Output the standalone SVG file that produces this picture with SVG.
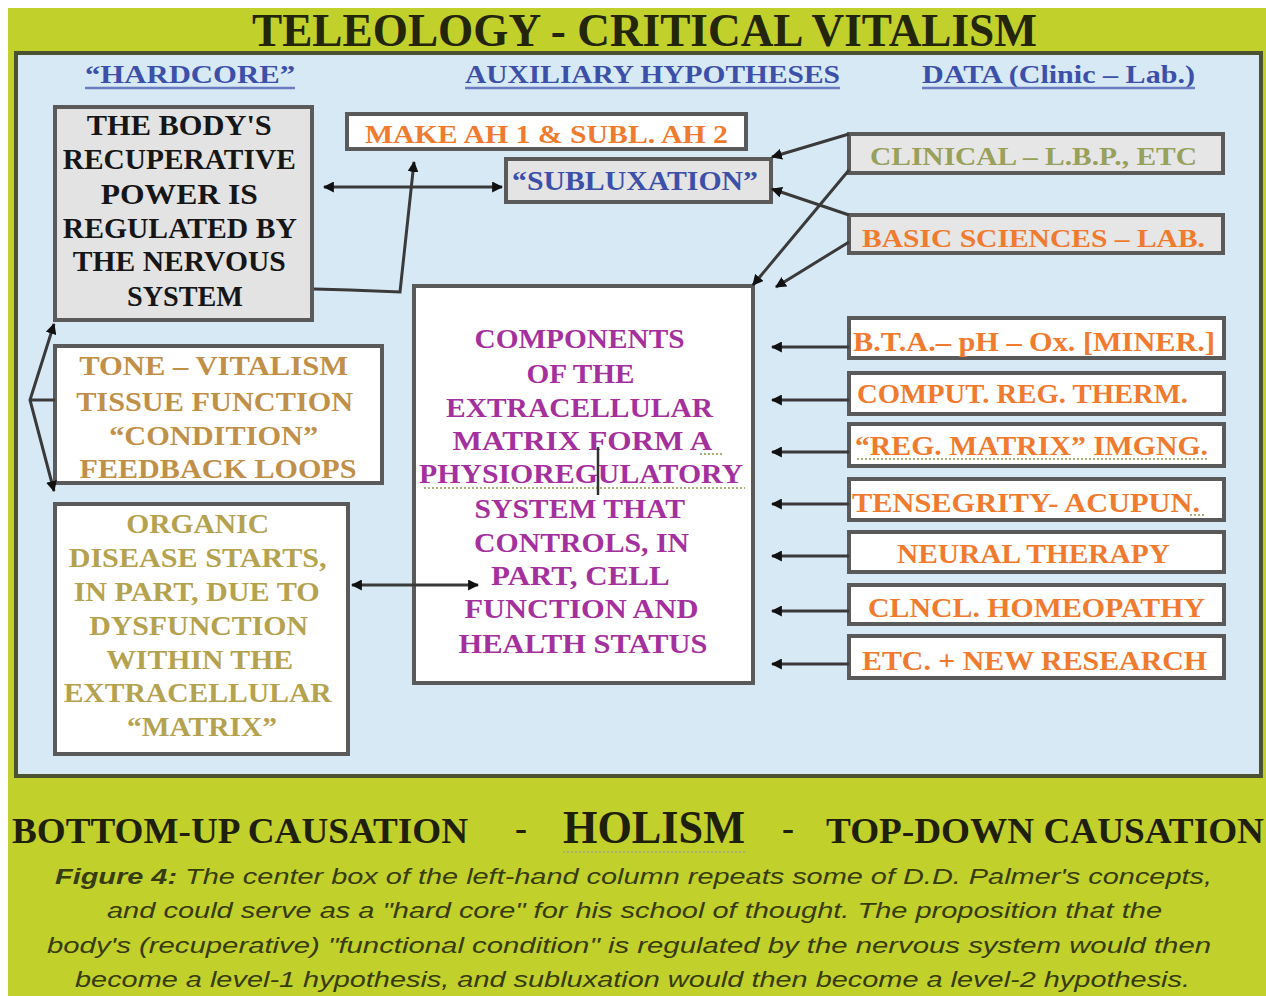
<svg xmlns="http://www.w3.org/2000/svg" width="1266" height="996" viewBox="0 0 1266 996">
<defs>
<marker id="ah" viewBox="0 0 10 10" refX="9" refY="5" markerWidth="11" markerHeight="11" markerUnits="userSpaceOnUse" orient="auto-start-reverse">
<path d="M0,0 L10,5 L0,10 z" fill="#111"/>
</marker>
<style>
.box{stroke:#5a5a5a;stroke-width:4}
.t{font-family:"Liberation Serif",serif;font-weight:bold;text-anchor:middle}
.tl{font-family:"Liberation Serif",serif;font-weight:bold}
.or{fill:#f07a2e}
.pu{fill:#a4309e}
.tan{fill:#c09048}
.ol{fill:#b4a24e}
.hd{fill:#3c50aa;font-family:"Liberation Serif",serif;font-weight:bold}
.cap{font-family:"Liberation Sans",Arial,sans-serif;font-style:italic;fill:#363c0c;font-size:22px}
.c{stroke:#3a3a3a;stroke-width:3;fill:none}
.sq{stroke:#a8b078;stroke-width:2;stroke-dasharray:2 2;fill:none}
</style>
</defs>
<rect x="0" y="0" width="1266" height="996" fill="#ffffff"/>
<rect x="8" y="8" width="1258" height="988" fill="#c1d02b"/>
<text class="tl" x="252" y="46" font-size="46" fill="#24260c" textLength="785" lengthAdjust="spacingAndGlyphs">TELEOLOGY  - CRITICAL VITALISM</text>
<rect id="panel" x="16" y="53" width="1245" height="723" fill="#d7e9f5" stroke="#4b5230" stroke-width="4"/>

<g id="headers">
<text class="hd" x="85" y="83" font-size="25" textLength="210" lengthAdjust="spacingAndGlyphs">“HARDCORE”</text>
<line x1="85" y1="88" x2="295" y2="88" stroke="#6c7cc0" stroke-width="2.5"/>
<text class="hd" x="465" y="83" font-size="25" textLength="375" lengthAdjust="spacingAndGlyphs">AUXILIARY HYPOTHESES</text>
<line x1="465" y1="88" x2="840" y2="88" stroke="#6c7cc0" stroke-width="2.5"/>
<text class="hd" x="922" y="83" font-size="25" textLength="273" lengthAdjust="spacingAndGlyphs">DATA (Clinic – Lab.)</text>
<line x1="922" y1="88" x2="1195" y2="88" stroke="#6c7cc0" stroke-width="2.5"/>
</g>

<g id="hardcore">
<rect class="box" x="55" y="107" width="257" height="213" fill="#e3e3e3"/>
<text class="t" font-size="30" fill="#161616">
<tspan x="183" y="135" textLength="185" lengthAdjust="spacingAndGlyphs">THE BODY'S</tspan>
<tspan x="183" y="169" textLength="233" lengthAdjust="spacingAndGlyphs">RECUPERATIVE</tspan>
<tspan x="183" y="204" textLength="157" lengthAdjust="spacingAndGlyphs">POWER  IS</tspan>
<tspan x="183" y="238" textLength="233" lengthAdjust="spacingAndGlyphs">REGULATED BY</tspan>
<tspan x="183" y="271" textLength="213" lengthAdjust="spacingAndGlyphs">THE NERVOUS</tspan>
<tspan x="185" y="306" textLength="116" lengthAdjust="spacingAndGlyphs">SYSTEM</tspan>
</text>
</g>

<g id="makeah">
<rect class="box" x="347" y="114" width="399" height="35" fill="#ffffff"/>
<text class="tl or" x="365" y="143" font-size="26" textLength="363" lengthAdjust="spacingAndGlyphs">MAKE AH 1 &amp; SUBL. AH 2</text>
</g>

<g id="subluxation">
<rect class="box" x="506" y="159" width="265" height="43" fill="#e4e4e4"/>
<text class="tl" x="512" y="190" font-size="28" fill="#3c50aa" textLength="246" lengthAdjust="spacingAndGlyphs">“SUBLUXATION”</text>
</g>

<g id="clinical">
<rect class="box" x="849" y="134" width="374" height="39" fill="#e6e6e6"/>
<text class="tl" x="870" y="165" font-size="26" fill="#98a05a" textLength="327" lengthAdjust="spacingAndGlyphs">CLINICAL – L.B.P., ETC</text>
</g>

<g id="basic">
<rect class="box" x="849" y="215" width="374" height="38" fill="#e6e6e6"/>
<text class="tl or" x="862" y="247" font-size="26" textLength="343" lengthAdjust="spacingAndGlyphs">BASIC SCIENCES – LAB.</text>
</g>

<g id="matrix">
<rect class="box" x="414" y="286" width="339" height="397" fill="#ffffff"/>
<text class="t pu" font-size="28">
<tspan x="583" y="348" textLength="210" lengthAdjust="spacingAndGlyphs">COMPONENTS</tspan>
<tspan x="584" y="383" textLength="108" lengthAdjust="spacingAndGlyphs">OF THE</tspan>
<tspan x="583" y="417" textLength="267" lengthAdjust="spacingAndGlyphs">EXTRACELLULAR</tspan>
<tspan x="585" y="450" textLength="258" lengthAdjust="spacingAndGlyphs">MATRIX FORM A</tspan>
<tspan x="584" y="483" textLength="323" lengthAdjust="spacingAndGlyphs">PHYSIOREGULATORY</tspan>
<tspan x="583" y="518" textLength="210" lengthAdjust="spacingAndGlyphs">SYSTEM THAT</tspan>
<tspan x="585" y="552" textLength="215" lengthAdjust="spacingAndGlyphs">CONTROLS, IN</tspan>
<tspan x="583" y="585" textLength="177" lengthAdjust="spacingAndGlyphs">PART, CELL</tspan>
<tspan x="585" y="618" textLength="234" lengthAdjust="spacingAndGlyphs">FUNCTION AND</tspan>
<tspan x="583" y="653" textLength="249" lengthAdjust="spacingAndGlyphs">HEALTH STATUS</tspan>
</text>
<line class="sq" x1="424" y1="488" x2="745" y2="488"/>
<line class="sq" x1="700" y1="454" x2="722" y2="454"/>
<line x1="598" y1="447" x2="598" y2="495" stroke="#333" stroke-width="2.5"/>
</g>

<g id="tone">
<rect class="box" x="55" y="346" width="327" height="137" fill="#ffffff"/>
<text class="t tan" font-size="27">
<tspan x="217" y="375" textLength="269" lengthAdjust="spacingAndGlyphs">TONE – VITALISM</tspan>
<tspan x="218" y="411" textLength="277" lengthAdjust="spacingAndGlyphs">TISSUE FUNCTION</tspan>
<tspan x="217" y="445" textLength="209" lengthAdjust="spacingAndGlyphs">“CONDITION”</tspan>
<tspan x="218" y="478" textLength="277" lengthAdjust="spacingAndGlyphs">FEEDBACK LOOPS</tspan>
</text>
</g>

<g id="organic">
<rect class="box" x="55" y="504" width="293" height="250" fill="#ffffff"/>
<text class="t ol" font-size="27">
<tspan x="201" y="533" textLength="143" lengthAdjust="spacingAndGlyphs">ORGANIC</tspan>
<tspan x="201" y="567" textLength="258" lengthAdjust="spacingAndGlyphs">DISEASE STARTS,</tspan>
<tspan x="200" y="601" textLength="246" lengthAdjust="spacingAndGlyphs">IN PART, DUE TO</tspan>
<tspan x="202" y="635" textLength="219" lengthAdjust="spacingAndGlyphs">DYSFUNCTION</tspan>
<tspan x="203" y="669" textLength="187" lengthAdjust="spacingAndGlyphs">WITHIN THE</tspan>
<tspan x="201" y="702" textLength="268" lengthAdjust="spacingAndGlyphs">EXTRACELLULAR</tspan>
<tspan x="202" y="736" textLength="150" lengthAdjust="spacingAndGlyphs">“MATRIX”</tspan>
</text>
</g>

<g id="bta">
<rect class="box" x="849" y="318" width="375" height="40" fill="#ffffff"/>
<text class="tl or" x="853" y="351" font-size="27" textLength="362" lengthAdjust="spacingAndGlyphs">B.T.A.– pH – Ox.  [MINER.]</text>
</g>
<g id="comput">
<rect class="box" x="849" y="373" width="375" height="41" fill="#ffffff"/>
<text class="tl or" x="857" y="403" font-size="27" textLength="331" lengthAdjust="spacingAndGlyphs">COMPUT. REG. THERM.</text>
</g>
<g id="regmatrix">
<rect class="box" x="849" y="424" width="375" height="42" fill="#ffffff"/>
<text class="tl or" x="855" y="455" font-size="27" textLength="353" lengthAdjust="spacingAndGlyphs">“REG. MATRIX” IMGNG.</text>
<line class="sq" x1="857" y1="459" x2="1208" y2="459"/>
</g>
<g id="tensegrity">
<rect class="box" x="849" y="479" width="375" height="41" fill="#ffffff"/>
<text class="tl or" x="852" y="512" font-size="27" textLength="348" lengthAdjust="spacingAndGlyphs">TENSEGRITY- ACUPUN.</text>
<line class="sq" x1="1190" y1="515" x2="1206" y2="515"/>
</g>
<g id="neural">
<rect class="box" x="849" y="532" width="375" height="40" fill="#ffffff"/>
<text class="tl or" x="897" y="563" font-size="27" textLength="273" lengthAdjust="spacingAndGlyphs">NEURAL THERAPY</text>
</g>
<g id="homeopathy">
<rect class="box" x="849" y="585" width="375" height="39" fill="#ffffff"/>
<text class="tl or" x="868" y="617" font-size="27" textLength="337" lengthAdjust="spacingAndGlyphs">CLNCL. HOMEOPATHY</text>
</g>
<g id="research">
<rect class="box" x="849" y="636" width="375" height="42" fill="#ffffff"/>
<text class="tl or" x="862" y="670" font-size="27" textLength="345" lengthAdjust="spacingAndGlyphs">ETC. + NEW RESEARCH</text>
</g>

<g id="connectors">
<line class="c" x1="324" y1="187" x2="502" y2="187" marker-start="url(#ah)" marker-end="url(#ah)"/>
<polyline class="c" points="314,289 350,290 400,292 414,162" marker-end="url(#ah)"/>
<line class="c" x1="849" y1="134" x2="772" y2="157" marker-end="url(#ah)"/>
<line class="c" x1="849" y1="170" x2="753" y2="285" marker-end="url(#ah)"/>
<line class="c" x1="849" y1="215" x2="772" y2="189" marker-end="url(#ah)"/>
<line class="c" x1="849" y1="242" x2="776" y2="287" marker-end="url(#ah)"/>
<line class="c" x1="849" y1="347" x2="772" y2="347" marker-end="url(#ah)"/>
<line class="c" x1="849" y1="400" x2="772" y2="400" marker-end="url(#ah)"/>
<line class="c" x1="849" y1="452" x2="772" y2="452" marker-end="url(#ah)"/>
<line class="c" x1="849" y1="504" x2="772" y2="504" marker-end="url(#ah)"/>
<line class="c" x1="849" y1="556" x2="772" y2="556" marker-end="url(#ah)"/>
<line class="c" x1="849" y1="611" x2="772" y2="611" marker-end="url(#ah)"/>
<line class="c" x1="849" y1="664" x2="772" y2="664" marker-end="url(#ah)"/>
<line class="c" x1="352" y1="585" x2="478" y2="585" marker-start="url(#ah)" marker-end="url(#ah)"/>
<polyline class="c" points="54,324 30,400 54,491" marker-start="url(#ah)" marker-end="url(#ah)"/>
<line class="c" x1="30" y1="400" x2="55" y2="400"/>
</g>

<g id="bottom">
<text class="tl" x="12" y="843" font-size="36" fill="#1e200c" textLength="456" lengthAdjust="spacingAndGlyphs">BOTTOM-UP CAUSATION</text>
<text class="tl" x="515" y="840" font-size="36" fill="#1e200c">-</text>
<text class="tl" x="563" y="843" font-size="46" fill="#1e200c" textLength="182" lengthAdjust="spacingAndGlyphs">HOLISM</text>
<line class="sq" x1="563" y1="852" x2="745" y2="852" stroke="#8e9a62"/>
<text class="tl" x="782" y="840" font-size="36" fill="#1e200c">-</text>
<text class="tl" x="826" y="843" font-size="36" fill="#1e200c" textLength="438" lengthAdjust="spacingAndGlyphs">TOP-DOWN CAUSATION</text>
</g>

<g id="caption">
<text class="cap" x="55" y="884" textLength="1157" lengthAdjust="spacingAndGlyphs"><tspan font-weight="bold">Figure 4:</tspan> The center box of the left-hand column repeats some of D.D. Palmer's concepts,</text>
<text class="cap" x="107" y="918" textLength="1055" lengthAdjust="spacingAndGlyphs">and could serve as a "hard core" for his school of thought.  The proposition that the</text>
<text class="cap" x="47" y="953" textLength="1164" lengthAdjust="spacingAndGlyphs">body's (recuperative) "functional condition" is regulated by the nervous system would then</text>
<text class="cap" x="75" y="987" textLength="1115" lengthAdjust="spacingAndGlyphs">become a level-1 hypothesis, and subluxation would then become a level-2 hypothesis.</text>
</g>
</svg>
